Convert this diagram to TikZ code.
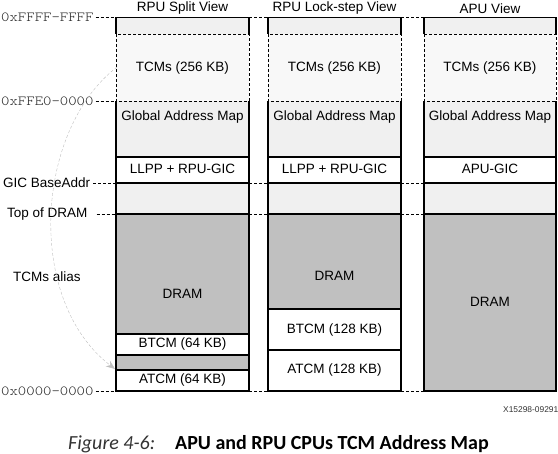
\documentclass[tikz,border=0pt]{standalone}
\usepackage{fontspec}
\setmainfont{Liberation Sans}
\newfontfamily\addrfont[Extension=.otf, FakeStretch=1.15]{lmmonolt10-regular}
\newfontfamily\capfont{Carlito}
\usetikzlibrary{arrows.meta}
\definecolor{mapgray}{RGB}{240,240,240}
\definecolor{tcmgray}{RGB}{248,248,248}
\definecolor{dramgray}{RGB}{192,192,192}
\definecolor{aliasgray}{RGB}{190,190,190}
\tikzset{
  lbl/.style={font=\fontsize{13.5}{16}\selectfont, inner sep=0pt},
  addr/.style={font=\addrfont\fontsize{13.9}{16}\selectfont, text=black!85, inner sep=0pt, anchor=west},
  guide/.style={thin, dash pattern=on 3pt off 2pt},
  edge/.style={line width=1.6pt},
}

\begin{document}
\begin{tikzpicture}[x=1pt, y=-1pt]
  \useasboundingbox (0,0) rectangle (558,454);
  % RPU split view
  \begin{scope}[xshift=116pt]
    \fill[mapgray] (0,17.5) rectangle (133,214);
    \fill[tcmgray] (0,34) rectangle (133,101);
    \fill[white] (0,157) rectangle (133,183);
    \fill[dramgray] (0,214) rectangle (133,391);
    \fill[white] (0,334) rectangle (133,355);
    \fill[white] (0,370) rectangle (133,391);
    \draw[edge] (0,34) -- (0,17.5) -- (133,17.5) -- (133,34);
    \draw[edge] (0,101) -- (0,391) -- (133,391) -- (133,101);
    \draw[edge] (0,157) -- (133,157) (0,183) -- (133,183) (0,214) -- (133,214);
    \draw[edge] (0,334) -- (133,334) (0,355) -- (133,355) (0,370) -- (133,370);
    \draw[guide] (0,34) rectangle (133,101);
    \node[lbl] (h1) at (66.5,8.5)  {RPU Split View};
    \node[lbl] (t1) at (66.5,68)   {TCMs (256 KB)};
    \node[lbl] (g1) at (66.5,117)  {Global Address Map};
    \node[lbl] (l1) at (66.5,169)  {LLPP + RPU-GIC};
    \node[lbl] (d1) at (66.5,294)  {DRAM};
    \node[lbl] (b1) at (66.5,344)  {BTCM (64 KB)};
    \node[lbl] (a1) at (66.5,380)  {ATCM (64 KB)};
    \coordinate (tcm) at (1,67);
    \coordinate (atcm) at (-1,369);
  \end{scope}
  % RPU lock-step view
  \begin{scope}[xshift=268pt]
    \fill[mapgray] (0,17.5) rectangle (133,214);
    \fill[tcmgray] (0,34) rectangle (133,101);
    \fill[white] (0,157) rectangle (133,183);
    \fill[dramgray] (0,214) rectangle (133,309);
    \fill[white] (0,309) rectangle (133,391);
    \draw[edge] (0,34) -- (0,17.5) -- (133,17.5) -- (133,34);
    \draw[edge] (0,101) -- (0,391) -- (133,391) -- (133,101);
    \draw[edge] (0,157) -- (133,157) (0,183) -- (133,183) (0,214) -- (133,214);
    \draw[edge] (0,309) -- (133,309) (0,350) -- (133,350);
    \draw[guide] (0,34) rectangle (133,101);
    \node[lbl] (h2) at (66.5,8.5)  {RPU Lock-step View};
    \node[lbl] (t2) at (66.5,68)   {TCMs (256 KB)};
    \node[lbl] (g2) at (66.5,117)  {Global Address Map};
    \node[lbl] (l2) at (66.5,169)  {LLPP + RPU-GIC};
    \node[lbl] (d2) at (66.5,276)  {DRAM};
    \node[lbl] (b2) at (66.5,330)  {BTCM (128 KB)};
    \node[lbl] (a2) at (66.5,370)  {ATCM (128 KB)};
  \end{scope}
  % APU view
  \begin{scope}[xshift=424pt]
    \fill[mapgray] (0,17.5) rectangle (132,214);
    \fill[tcmgray] (0,34) rectangle (132,101);
    \fill[white] (0,157) rectangle (132,183);
    \fill[dramgray] (0,214) rectangle (132,391);
    \draw[edge] (0,34) -- (0,17.5) -- (132,17.5) -- (132,34);
    \draw[edge] (0,101) -- (0,391) -- (132,391) -- (132,101);
    \draw[edge] (0,157) -- (132,157) (0,183) -- (132,183) (0,214) -- (132,214);
    \draw[guide] (0,34) rectangle (132,101);
    \node[lbl] (h3) at (66,8.5)  {APU View};
    \node[lbl] (t3) at (66,68)   {TCMs (256 KB)};
    \node[lbl] (g3) at (66,117)  {Global Address Map};
    \node[lbl] (l3) at (66,169)  {APU-GIC};
    \node[lbl] (d3) at (66,302)  {DRAM};
  \end{scope}
  % addresses on the left
  \node[addr] (top)  at (1,17.5) {0xFFFF-FFFF};
  \node[addr] (tcmb) at (1,101)  {0xFFE0-0000};
  \node[lbl, anchor=west] (gic)  at (3,183) {GIC BaseAddr};
  \node[lbl, anchor=west] (dram) at (7,214) {Top of DRAM};
  \node[lbl, anchor=west] (alias) at (13,277) {TCMs alias};
  \node[addr] (zero) at (1,391)  {0x0000-0000};
  \draw[guide] (top.east) ++(2,0) -- (116,17.5);
  \draw[guide] (tcmb.east) ++(2,0) -- (116,101);
  \draw[guide] (gic.east) ++(3,0) -- (116,183);
  \draw[guide] (dram.east) ++(9,0) -- (116,214);
  \draw[guide] (zero.east) ++(2,0) -- (116,391);
  \draw[guide] (249,17.5) -- (268,17.5) (401,17.5) -- (424,17.5);
  \draw[guide] (249,183) -- (268,183) (401,183) -- (424,183);
  \draw[guide] (249,214) -- (268,214) (401,214) -- (424,214);
  \draw[guide] (249,391) -- (268,391) (401,391) -- (424,391);
  % alias arrow
  \draw[aliasgray, thin, densely dashed, -{Stealth[length=9pt, width=7pt]}]
    (tcm) .. controls (35,130) and (25,300) .. (atcm);
  \node[font=\fontsize{8.4}{9}\selectfont, text=black!80, anchor=west, inner sep=0pt] (id) at (503,410) {X15298-09291};
  \node[font=\capfont\itshape\fontsize{20}{24}\selectfont, text=black!80, anchor=base west, inner sep=0pt] (fig) at (68,450) {Figure 4-6:};
  \node[font=\capfont\bfseries\fontsize{20}{24}\selectfont, anchor=base west, inner sep=0pt] (cap) at (175,450) {APU and RPU CPUs TCM Address Map};
\end{tikzpicture}
\end{document}
